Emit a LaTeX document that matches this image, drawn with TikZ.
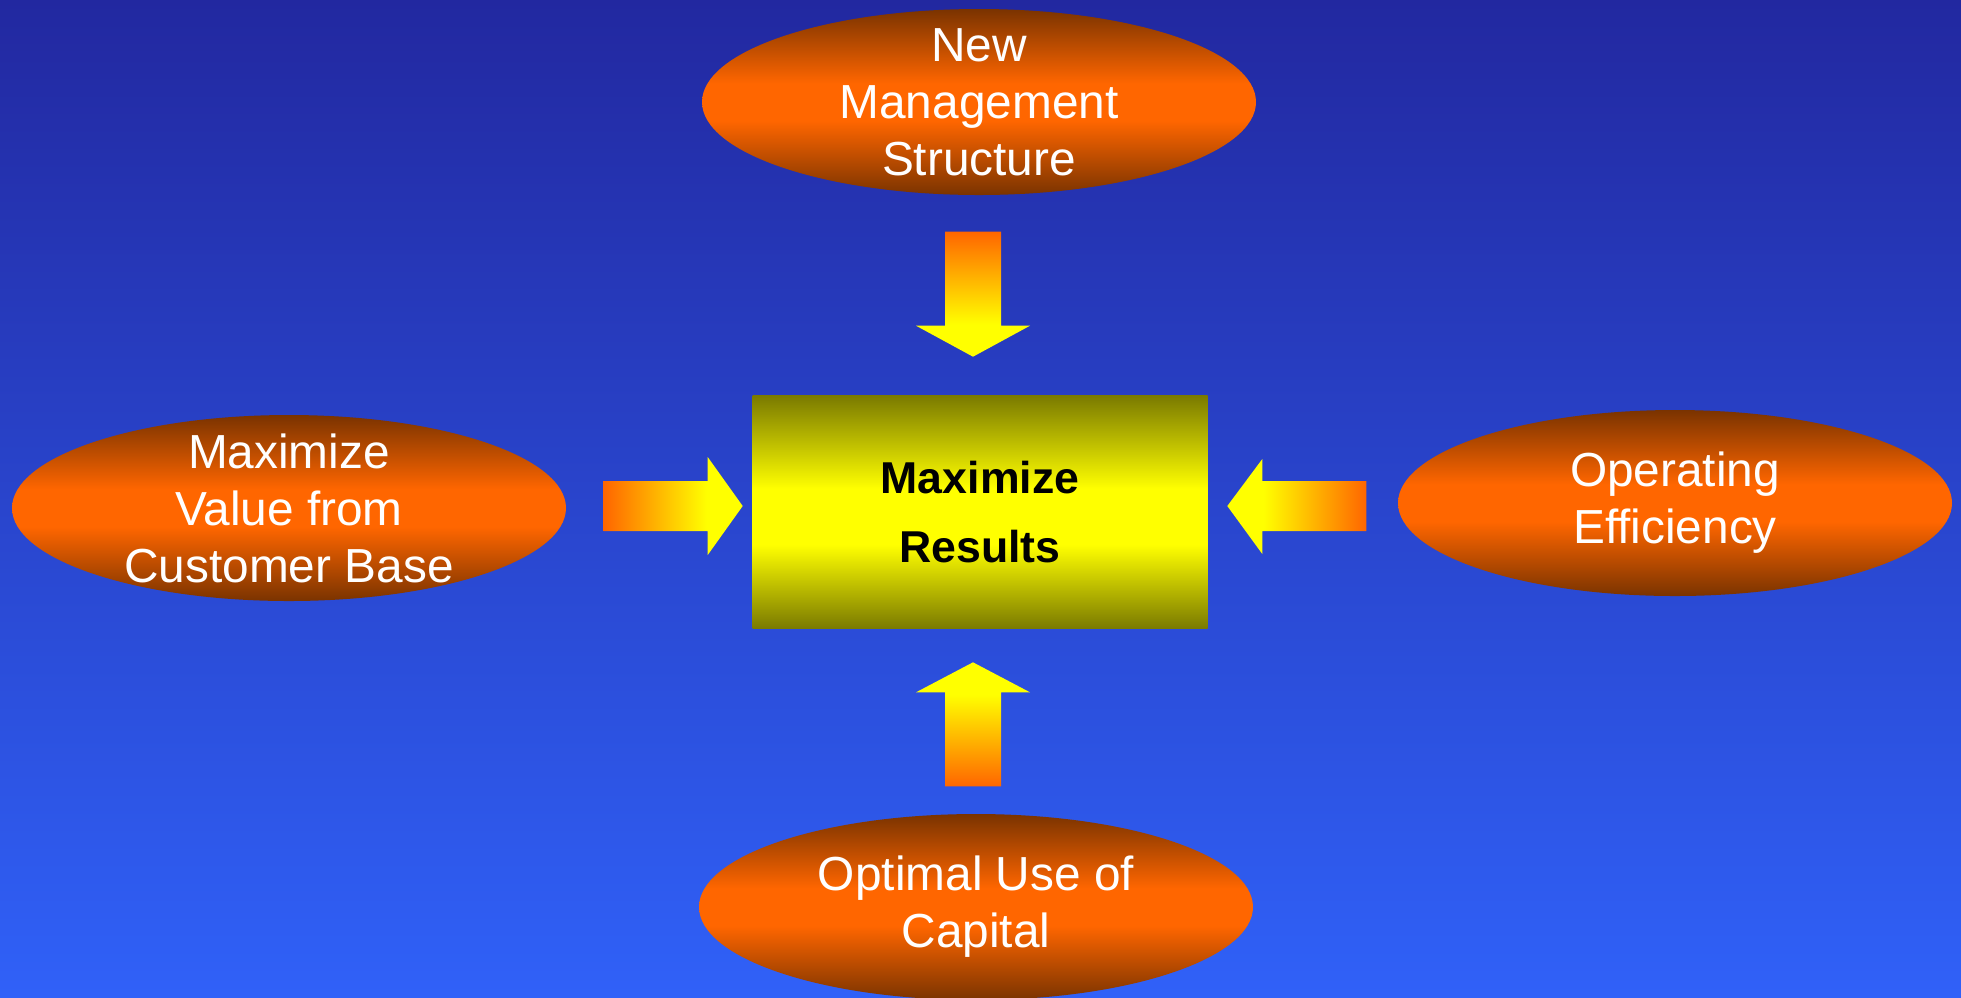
\documentclass[tikz,border=0pt]{standalone}
\usepackage{fontspec}
\setmainfont{Liberation Sans}
\usepackage{tikz}
\usetikzlibrary{shapes.geometric, calc}

\definecolor{bgtop}{RGB}{34,40,160}
\definecolor{bgbottom}{RGB}{48,97,248}
\definecolor{goalbrown}{RGB}{122,51,0}
\definecolor{goalorange}{RGB}{255,102,0}
\definecolor{boxolive}{RGB}{122,122,0}
\definecolor{boxyellow}{RGB}{255,255,0}

\pgfdeclareverticalshading{goalshade}{100bp}{color(0bp)=(goalbrown); color(25bp)=(goalbrown);
  color(45bp)=(goalorange); color(55bp)=(goalorange); color(75bp)=(goalbrown); color(100bp)=(goalbrown)}
\pgfdeclareverticalshading{resultshade}{100bp}{color(0bp)=(boxolive); color(25bp)=(boxolive);
  color(43bp)=(boxyellow); color(55bp)=(boxyellow); color(75bp)=(boxolive); color(100bp)=(boxolive)}
\pgfdeclarehorizontalshading{pushshade}{100bp}{color(0bp)=(goalorange); color(25bp)=(goalorange);
  color(62bp)=(boxyellow); color(100bp)=(boxyellow)}

\begin{document}
\begin{tikzpicture}[
  x=0.1mm, y=-0.1mm,
  goal/.style={ellipse, shade, shading=goalshade, minimum width=55.4mm, minimum height=18.6mm,
               inner xsep=0pt, inner ysep=-10pt, text=white, align=center,
               font=\fontsize{13.6}{16.2}\selectfont},
  result/.style={rectangle, shade, shading=resultshade, minimum width=45.5mm, minimum height=23.3mm,
                 align=center, font=\fontsize{12.7}{19.8}\selectfont\bfseries},
  push/.style={shading=pushshade}
]
  \useasboundingbox (0,0) rectangle (1961,997);
  \shade[top color=bgtop, bottom color=bgbottom] (0,0) rectangle (1961,997);

  % Goals around the centre
  \node[goal] (mgmt) at (979,102) {New\\Management\\Structure};
  \node[goal] (value) at (289,508) {Maximize\\Value from\\Customer Base};
  \node[goal] (effic) at (1675,503) {Operating\\Efficiency};
  \node[goal] (capital) at (976,907) {Optimal Use of\\Capital};

  % Centre box
  \node[result] (results) at (980,512) {Maximize\\Results};

  % Block arrows towards the box
  \shade[push, shading angle=-90] ($(mgmt.south)+(-34,36)$) -- ++(56,0) -- ++(0,94) -- ++(29,0)
    -- ++(-57,31) -- ++(-57,-31) -- ++(29,0) -- cycle;
  \shade[push, shading angle=90] ($(capital.north)+(-31,-27)$) -- ++(0,-94) -- ++(-29,0)
    -- ++(57,-30) -- ++(57,30) -- ++(-29,0) -- ++(0,94) -- cycle;
  \shade[push, shading angle=0] ($(value.east)+(37,-27)$) -- ++(104,0) -- ++(0,-24)
    -- ++(35,49) -- ++(-35,49) -- ++(0,-24) -- ++(-104,0) -- cycle;
  \shade[push, shading angle=180] ($(effic.west)+(-31,-22)$) -- ++(-104,0) -- ++(0,-22)
    -- ++(-35,47) -- ++(35,48) -- ++(0,-23) -- ++(104,0) -- cycle;
\end{tikzpicture}
\end{document}
